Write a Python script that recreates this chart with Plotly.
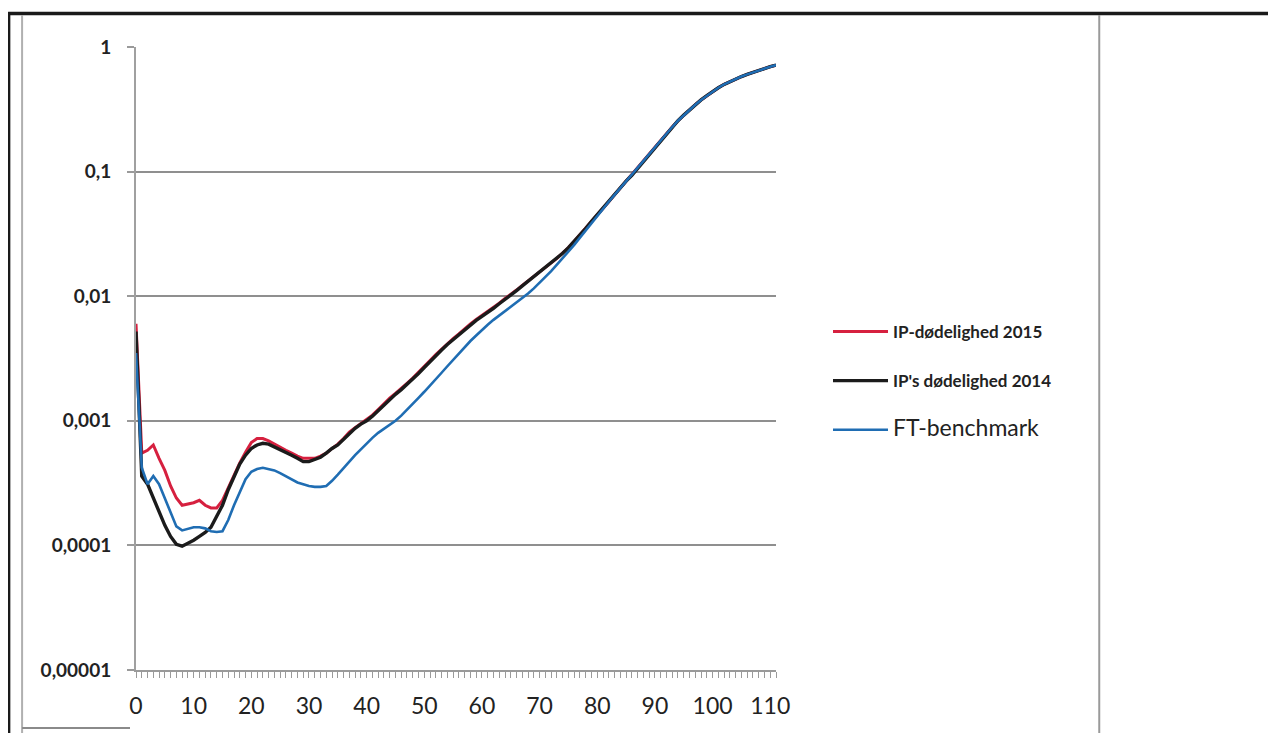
import plotly.graph_objects as go

ages = list(range(0, 112))

ft_benchmark = [
    0.0035, 0.00042, 0.00031, 0.00036, 0.00031, 0.00024, 0.00018, 0.000142, 0.000132, 0.000136,
    0.00014, 0.00014, 0.000137, 0.00013, 0.000128, 0.00013, 0.00016, 0.00021, 0.00027, 0.00034,
    0.00039, 0.00041, 0.00042, 0.00041, 0.0004, 0.00038, 0.00036, 0.00034, 0.00032, 0.00031,
    0.0003, 0.000295, 0.000295, 0.0003, 0.00033, 0.00037, 0.00042, 0.00047, 0.00053, 0.00059,
    0.00066, 0.00073, 0.0008, 0.00086, 0.00093, 0.001, 0.0011, 0.00122, 0.00137, 0.00153,
    0.00171, 0.00191, 0.00215, 0.00243, 0.00274, 0.00309, 0.00349, 0.00394, 0.00437, 0.00484,
    0.00537, 0.00589, 0.00646, 0.0070, 0.00759, 0.00822, 0.00891, 0.00966, 0.0105, 0.01156,
    0.0128, 0.0142, 0.0159, 0.0179, 0.0201, 0.0226, 0.0258, 0.0295, 0.0338, 0.0388,
    0.0445, 0.0505, 0.0573, 0.0651, 0.0739, 0.0838, 0.0935, 0.106, 0.121, 0.138,
    0.157, 0.179, 0.203, 0.228, 0.256, 0.284, 0.313, 0.344, 0.376, 0.407,
    0.44, 0.471, 0.501, 0.528, 0.555, 0.579, 0.603, 0.627, 0.649, 0.671,
    0.695, 0.716,
]

ip_2014 = [
    0.0052, 0.00036, 0.00031, 0.00024, 0.00019, 0.000145, 0.000118, 0.000102, 0.0000985, 0.000104,
    0.00011, 0.000118, 0.000127, 0.00014, 0.00017, 0.00021, 0.00028, 0.00036, 0.00045, 0.00053,
    0.0006, 0.00064, 0.00066, 0.00065, 0.00062, 0.00059, 0.00056, 0.00053, 0.0005, 0.00047,
    0.00047, 0.00049, 0.00051, 0.00055, 0.0006, 0.00064, 0.00071, 0.0008, 0.00087, 0.00094,
    0.001, 0.00109, 0.00121, 0.00135, 0.0015, 0.00163, 0.00178, 0.00196, 0.00217, 0.0024,
    0.00268, 0.003, 0.00335, 0.0037, 0.0041, 0.0045, 0.0049, 0.0054, 0.0059, 0.0064,
    0.0069, 0.0074, 0.008, 0.0087, 0.0095, 0.0102, 0.0111, 0.0121, 0.0132, 0.0144,
    0.0156, 0.0169, 0.0184, 0.02, 0.0221, 0.0245, 0.0275, 0.031, 0.035, 0.0398,
    0.0452, 0.0508, 0.0573, 0.0651, 0.0739, 0.0838, 0.0935, 0.106, 0.121, 0.138,
    0.157, 0.179, 0.203, 0.228, 0.256, 0.284, 0.313, 0.344, 0.376, 0.407,
    0.44, 0.471, 0.501, 0.528, 0.555, 0.579, 0.603, 0.627, 0.649, 0.671,
    0.695, 0.716,
]

ip_2015 = [
    0.006, 0.00055, 0.00058, 0.00064, 0.0005, 0.0004, 0.0003, 0.00024, 0.00021, 0.000215,
    0.00022, 0.00023, 0.00021, 0.0002, 0.0002, 0.00023, 0.00029, 0.00037, 0.00046, 0.00056,
    0.00067, 0.00072, 0.00072, 0.00069, 0.00065, 0.00061, 0.00058, 0.00055, 0.00052, 0.0005,
    0.0005, 0.0005, 0.00052, 0.00055, 0.0006, 0.00065, 0.00072, 0.00081, 0.00088, 0.00095,
    0.00102, 0.00111, 0.00123, 0.00137, 0.00152, 0.00166, 0.00181, 0.002, 0.0022, 0.00244,
    0.00272, 0.00305, 0.0034, 0.00376, 0.00416, 0.00457, 0.00498, 0.0055, 0.006, 0.0065,
    0.007, 0.0075, 0.0081, 0.0088, 0.0096, 0.0103, 0.0112, 0.0122, 0.0133, 0.0145,
    0.0157, 0.017, 0.0185, 0.0201, 0.0222, 0.0246, 0.0276, 0.0311, 0.0351, 0.0399,
    0.0452, 0.0508, 0.0573, 0.0651, 0.0739, 0.0838, 0.0935, 0.106, 0.121, 0.138,
    0.157, 0.179, 0.203, 0.228, 0.256, 0.284, 0.313, 0.344, 0.376, 0.407,
    0.44, 0.471, 0.501, 0.528, 0.555, 0.579, 0.603, 0.627, 0.649, 0.671,
    0.695, 0.716,
]

y_tickvals = [1e-5, 1e-4, 1e-3, 1e-2, 1e-1, 1]
y_ticktext = ["0,00001", "0,0001", "0,001", "0,01", "0,1", "1"]
x_tickvals = list(range(0, 111, 10))
x_ticktext = [str(v) for v in x_tickvals]

names = [
    "IP-dødelighed 2015",
    "IP's dødelighed 2014",
    "<span style='font-weight:normal;font-size:23px'>FT-benchmark</span>",
]
colors = ["#d6203f", "#1b1b1b", "#1f6db3"]
series = [ip_2015, ip_2014, ft_benchmark]
widths = [3.0, 3.4, 2.6]

fig = go.Figure()
for i, (nm, col, ys, w) in enumerate(zip(names, colors, series, widths)):
    fig.add_trace(go.Scatter(
        x=ages, y=ys, mode="lines", name=nm,
        line=dict(color=col, width=w),
        legendgroup=f"g{i}",
    ))

# The page body adds an 8px margin, so the figure is drawn 8px smaller and
# all page positions below are expressed relative to that offset.
OFF = 8
W, H = 1276 - OFF, 733 - OFF
L, R, T, B = 136 - OFF, 776.5 - OFF, 47 - OFF, 670 - OFF


def px(x):
    return (x - OFF - L) / (R - L)


def py(y):
    return (B - (y - OFF)) / (B - T)


shapes = [
    dict(type="line", xref="paper", yref="paper", x0=px(8), x1=px(1276), y0=py(13.5), y1=py(13.5),
         line=dict(color="#1a1a1a", width=3.5)),
    dict(type="line", xref="paper", yref="paper", x0=px(9), x1=px(9), y0=py(12), y1=py(733),
         line=dict(color="#1a1a1a", width=2.5)),
    dict(type="line", xref="paper", yref="paper", x0=px(22), x1=px(22), y0=py(15), y1=py(733),
         line=dict(color="#b0b0b0", width=2)),
    dict(type="line", xref="paper", yref="paper", x0=px(1100), x1=px(1100), y0=py(15), y1=py(733),
         line=dict(color="#9a9a9a", width=2)),
    dict(type="line", xref="paper", yref="paper", x0=px(22), x1=px(130), y0=py(728), y1=py(728),
         line=dict(color="#8a8a8a", width=2)),
]

fig.update_layout(
    width=W, height=H,
    margin=dict(l=L, r=W - R, t=T, b=H - B, pad=0),
    paper_bgcolor="white", plot_bgcolor="white",
    font=dict(family="Lato, Open Sans, sans-serif", color="#222222"),
    showlegend=True,
    legend=dict(
        xref="container", yref="container",
        x=(828 - OFF) / W, y=1 - (314 - OFF) / H, xanchor="left", yanchor="top",
        font=dict(size=17, weight="bold", color="#222222"),
        bgcolor="rgba(0,0,0,0)",
        tracegroupgap=24,
        itemwidth=55,
    ),
    shapes=shapes,
    xaxis=dict(
        range=[0, 111],
        tickmode="array", tickvals=x_tickvals, ticktext=x_ticktext,
        showgrid=False, zeroline=False,
        showline=True, linecolor="#9a9a9a", linewidth=2,
        ticks="outside", ticklen=6, tickcolor="#9a9a9a", tickwidth=1,
        minor=dict(dtick=1, tick0=0, ticks="outside", ticklen=6, tickcolor="#9a9a9a", tickwidth=1, showgrid=False),
        tickfont=dict(size=23, color="#222222"),
        ticklabelstandoff=8,
    ),
    yaxis=dict(
        type="log", range=[-5, 0],
        tickmode="array", tickvals=y_tickvals, ticktext=y_ticktext,
        showgrid=True, gridcolor="#8f8f8f", gridwidth=2,
        zeroline=False,
        showline=True, linecolor="#a0a0a0", linewidth=2,
        ticks="outside", ticklen=7, tickcolor="#9a9a9a", tickwidth=2,
        tickfont=dict(size=19, color="#222222", weight="bold"),
        ticklabelstandoff=12,
    ),
)

fig.write_html("out.html")
